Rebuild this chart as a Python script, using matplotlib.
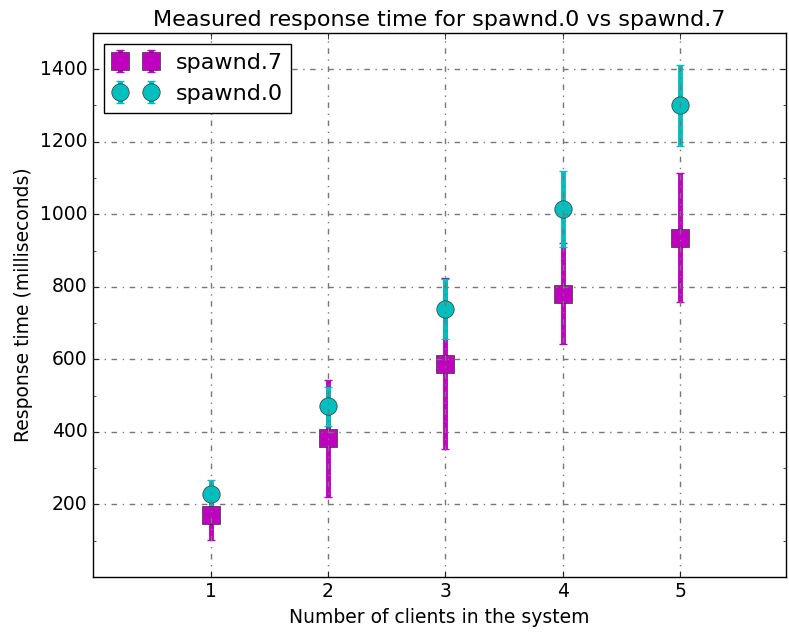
import matplotlib
matplotlib.use('Agg')
import matplotlib.pyplot as plt

plt.style.use('classic')

clients = [1, 2, 3, 4, 5]
spawnd7_mean = [172, 382, 588, 781, 936]
spawnd7_err = [70, 162, 236, 140, 178]
spawnd0_mean = [230, 470, 739, 1015, 1300]
spawnd0_err = [38, 55, 83, 105, 113]

fig = plt.figure(figsize=(7.89, 6.34), dpi=100, facecolor='white')
ax = fig.add_axes([0.118, 0.09, 0.878, 0.858])

ax.errorbar(clients, spawnd7_mean, yerr=spawnd7_err, fmt='s', color='m',
            ecolor='m', elinewidth=3.5, capsize=3, capthick=1,
            markersize=12.5, markeredgecolor='#333333', label='spawnd.7')
ax.errorbar(clients, spawnd0_mean, yerr=spawnd0_err, fmt='o', color='c',
            ecolor='c', elinewidth=3.5, capsize=3, capthick=1,
            markersize=12.5, markeredgecolor='#333333', label='spawnd.0')

ax.set_xlim(0, 5.9)
ax.set_ylim(0, 1500)
ax.set_xticks(clients)
ax.set_yticks(range(200, 1500, 200))
ax.set_yticks(range(100, 1500, 200), minor=True)
ax.tick_params(labelsize=13.5)
ax.grid(True, which='major', color='#777777', linewidth=1,
        dashes=(4, 4, 1, 4))
ax.set_axisbelow(False)

ax.set_title('Measured response time for spawnd.0 vs spawnd.7', fontsize=16)
ax.set_xlabel('Number of clients in the system', fontsize=13.5)
ax.set_ylabel('Response time (milliseconds)', fontsize=13.5)
ax.legend(loc='upper left', numpoints=2, fontsize=16)

fig.savefig('out.png', dpi=100, facecolor='white')
